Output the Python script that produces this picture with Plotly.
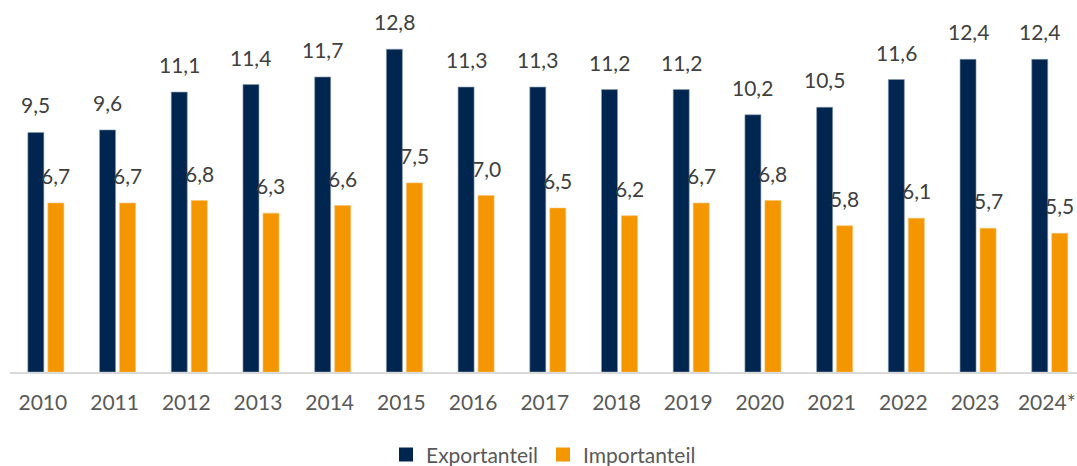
import plotly.graph_objects as go

years = ["2010", "2011", "2012", "2013", "2014", "2015", "2016", "2017",
         "2018", "2019", "2020", "2021", "2022", "2023", "2024*"]
export_share = [9.5, 9.6, 11.1, 11.4, 11.7, 12.8, 11.3, 11.3, 11.2, 11.2, 10.2, 10.5, 11.6, 12.4, 12.4]
import_share = [6.7, 6.7, 6.8, 6.3, 6.6, 7.5, 7.0, 6.5, 6.2, 6.7, 6.8, 5.8, 6.1, 5.7, 5.5]

NAVY = "#00264F"
ORANGE = "#F49600"
FONT = "Lato"

fig = go.Figure()
fig.add_trace(go.Bar(x=years, y=export_share, name="Exportanteil", showlegend=False,
                     marker=dict(color=NAVY, line=dict(color="#8A9AAE", width=0.6))))
fig.add_trace(go.Bar(x=years, y=import_share, name="Importanteil", showlegend=False,
                     marker=dict(color=ORANGE, line=dict(color="#F8C070", width=0.6))))
# legend entries with larger square swatches
fig.add_trace(go.Scatter(x=[None], y=[None], mode="markers", name="Exportanteil",
                         marker=dict(symbol="square", size=14, color=NAVY)))
fig.add_trace(go.Scatter(x=[None], y=[None], mode="markers", name="Importanteil",
                         marker=dict(symbol="square", size=14, color=ORANGE)))

def fmt(v):
    return f"{v:.1f}".replace(".", ",")

annotations = []
for idx, (e, i) in enumerate(zip(export_share, import_share)):
    annotations.append(dict(x=idx, y=e, text=fmt(e), showarrow=False, xshift=-10,
                            xref="x", yref="y",
                            yanchor="bottom", yshift=13,
                            font=dict(family=FONT, size=21, color="#404040")))
    annotations.append(dict(x=idx, y=i, text=fmt(i), showarrow=False, xshift=10,
                            xref="x", yref="y",
                            yanchor="bottom", yshift=13,
                            font=dict(family=FONT, size=21, color="#404040")))

fig.update_layout(
    width=1077, height=466,
    margin=dict(l=10, r=0, t=19, b=94, autoexpand=False),
    paper_bgcolor="white", plot_bgcolor="white",
    barmode="group", bargap=0.442, bargroupgap=0.2,
    font=dict(family=FONT, size=21, color="#595959"),
    showlegend=True,
    legend=dict(orientation="h", x=0.5, xanchor="center", y=-0.235, yanchor="middle",
                font=dict(family=FONT, size=21, color="#595959"), itemsizing="trace"),
    annotations=annotations,
    xaxis=dict(type="category", range=[-0.5, 14.38], showline=True, linecolor="#D9D9D9",
               linewidth=2, ticks="outside", ticklen=11, tickcolor="rgba(0,0,0,0)",
               ticklabelshift=-3, automargin=False,
               showgrid=False, tickfont=dict(family=FONT, size=21, color="#595959")),
    yaxis=dict(range=[0, 14], visible=False, showgrid=False, zeroline=False, automargin=False),
)

fig.write_html("out.html", config={"displayModeBar": False},
               post_script="document.body.style.margin='0';document.body.style.padding='0';")
